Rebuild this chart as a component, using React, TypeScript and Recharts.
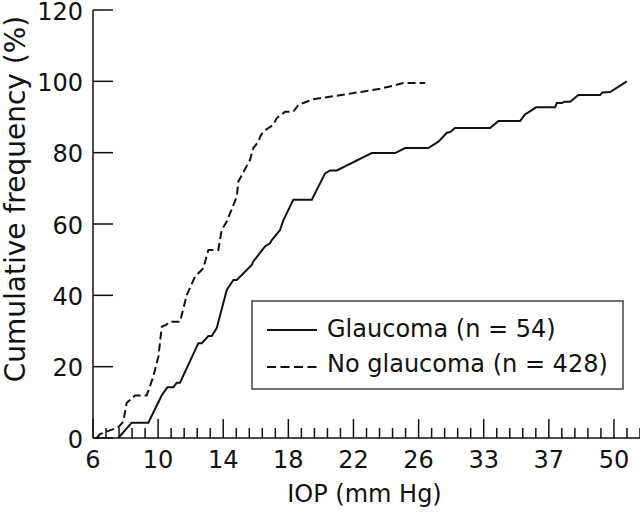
import { LineChart, Line, XAxis, YAxis } from "recharts";

// x is the position along the IOP axis in minor-tick steps (labels below)
const xTickLabels = ["6", "10", "14", "18", "22", "26", "33", "37", "50"];
const xMinorTicks = Array.from({ length: 43 }, (_, i) => i);
const yTicks = [0, 20, 40, 60, 80, 100, 120];

const glaucoma = [
  { x: 1.94, y: 0 }, { x: 2.97, y: 4.3 }, { x: 4.25, y: 4.3 }, { x: 5.28, y: 12 },
  { x: 5.71, y: 14.2 }, { x: 6.17, y: 14.2 }, { x: 6.43, y: 15.5 }, { x: 6.68, y: 15.5 },
  { x: 8.09, y: 26.6 }, { x: 8.35, y: 26.6 }, { x: 8.86, y: 28.6 }, { x: 9.12, y: 28.6 },
  { x: 9.5, y: 30.8 }, { x: 10.27, y: 41.5 }, { x: 10.78, y: 44.3 }, { x: 11.04, y: 44.3 },
  { x: 12.19, y: 48.5 }, { x: 12.31, y: 49.5 }, { x: 13.21, y: 53.7 }, { x: 13.59, y: 54.6 },
  { x: 13.73, y: 55.5 }, { x: 14.36, y: 58.3 }, { x: 14.62, y: 61.1 }, { x: 15.38, y: 66.8 },
  { x: 16.8, y: 66.8 }, { x: 17.82, y: 74.2 }, { x: 18.2, y: 75 }, { x: 18.72, y: 75 },
  { x: 21.4, y: 79.9 }, { x: 23.2, y: 79.9 }, { x: 23.96, y: 81.3 }, { x: 25.75, y: 81.3 },
  { x: 26.52, y: 83.1 }, { x: 27.17, y: 85.6 }, { x: 27.42, y: 85.8 }, { x: 27.8, y: 86.9 },
  { x: 30.49, y: 86.9 }, { x: 31.13, y: 88.9 }, { x: 32.8, y: 88.9 }, { x: 33.18, y: 90.8 },
  { x: 33.43, y: 91.3 }, { x: 34.02, y: 92.7 }, { x: 35.48, y: 92.7 }, { x: 35.61, y: 93.9 },
  { x: 36, y: 93.9 }, { x: 36.2, y: 94.3 }, { x: 36.64, y: 94.3 }, { x: 37.27, y: 96.2 },
  { x: 38.94, y: 96.2 }, { x: 39.12, y: 96.9 }, { x: 39.71, y: 97 }, { x: 40.99, y: 100 },
];

const noGlaucoma = [
  { x: 0.28, y: 0 }, { x: 0.54, y: 1.1 }, { x: 1.18, y: 2 }, { x: 1.94, y: 3 },
  { x: 2.33, y: 4.6 }, { x: 2.59, y: 9.9 }, { x: 3.23, y: 11.9 }, { x: 4.12, y: 11.9 },
  { x: 4.63, y: 17.2 }, { x: 5.02, y: 22.8 }, { x: 5.28, y: 31.2 }, { x: 5.61, y: 31.7 },
  { x: 5.91, y: 32.6 }, { x: 6.68, y: 32.6 }, { x: 7.2, y: 40.1 }, { x: 7.83, y: 45.2 },
  { x: 8.47, y: 47.6 }, { x: 8.86, y: 52.7 }, { x: 9.62, y: 52.7 }, { x: 9.88, y: 58.3 },
  { x: 10.27, y: 60.7 }, { x: 11.04, y: 67.7 }, { x: 11.16, y: 71.9 }, { x: 12.06, y: 78 },
  { x: 12.31, y: 81.3 }, { x: 12.7, y: 83.1 }, { x: 12.83, y: 84.5 }, { x: 13.08, y: 85.9 },
  { x: 13.46, y: 86.9 }, { x: 13.85, y: 87.8 }, { x: 14.11, y: 89.7 }, { x: 14.75, y: 91.5 },
  { x: 15.38, y: 91.5 }, { x: 15.77, y: 93.4 }, { x: 16.92, y: 95 }, { x: 19.49, y: 96.4 },
  { x: 22.04, y: 97.9 }, { x: 23.83, y: 99.5 }, { x: 25.5, y: 99.5 },
];

const FONT = "'DejaVu Sans', sans-serif";
const INK = "#111";

const XTick = ({ x, y, payload }: any) => {
  const major = payload.value % 5 === 0;
  const label = major ? xTickLabels[payload.value / 5] : null;
  return (
    <g>
      <line x1={x} x2={x} y1={y} y2={y - (major ? 19 : 10)} stroke={INK} strokeWidth={1.5} />
      {label && (
        <text x={x} y={y + 30} textAnchor="middle" fontSize={24} fontFamily={FONT} fill={INK}>
          {label}
        </text>
      )}
    </g>
  );
};

const YTick = ({ x, y, payload }: any) => (
  <g>
    <line x1={x} x2={x + 20} y1={y} y2={y} stroke={INK} strokeWidth={1.5} />
    <text x={x - 10} y={y + 9.5} textAnchor="end" fontSize={24} fontFamily={FONT} fill={INK}>
      {payload.value}
    </text>
  </g>
);

export default function App() {
  return (
    <div style={{ position: "absolute", left: 0, top: 0, width: 640, height: 515, background: "#fff" }}>
      <LineChart width={640} height={515} margin={{ top: 10, right: 0, bottom: 0, left: 0 }}>
        <XAxis
          type="number"
          dataKey="x"
          domain={[0, 42]}
          ticks={xMinorTicks}
          interval={0}
          height={77}
          tickSize={0}
          tickMargin={0}
          tickLine={false}
          axisLine={{ stroke: INK, strokeWidth: 1.5 }}
          tick={<XTick />}
          label={({ viewBox }: any) => (
            <text
              x={viewBox.x + viewBox.width / 2 - 2}
              y={viewBox.y + 64}
              textAnchor="middle"
              fontSize={24}
              fontFamily={FONT}
              fill={INK}
            >
              IOP (mm Hg)
            </text>
          )}
        />
        <YAxis
          type="number"
          domain={[0, 120]}
          ticks={yTicks}
          interval={0}
          width={93}
          tickSize={0}
          tickMargin={0}
          tickLine={false}
          axisLine={{ stroke: INK, strokeWidth: 1.5 }}
          tick={<YTick />}
          label={({ viewBox }: any) => {
            const cx = 25;
            const cy = viewBox.y + viewBox.height / 2 - 25;
            return (
              <text
                x={cx}
                y={cy}
                transform={`rotate(-90 ${cx} ${cy})`}
                textAnchor="middle"
                fontSize={28}
                fontFamily={FONT}
                fill={INK}
              >
                Cumulative frequency (%)
              </text>
            );
          }}
        />
        <Line
          data={noGlaucoma}
          dataKey="y"
          type="linear"
          stroke={INK}
          strokeWidth={2}
          strokeDasharray="8 4"
          dot={false}
          isAnimationActive={false}
        />
        <Line
          data={glaucoma}
          dataKey="y"
          type="linear"
          stroke={INK}
          strokeWidth={2}
          dot={false}
          isAnimationActive={false}
        />
      </LineChart>
      <svg width={373} height={90} style={{ position: "absolute", left: 251, top: 300 }}>
        <rect x={1} y={1} width={371} height={88} fill="#fff" stroke="#444" strokeWidth={1.5} />
        <line x1={16} x2={66} y1={30} y2={30} stroke={INK} strokeWidth={2} />
        <line x1={16} x2={66} y1={67} y2={67} stroke={INK} strokeWidth={2} strokeDasharray="9 4.5" />
        <text x={76} y={37} fontSize={24} fontFamily={FONT} fill={INK}>
          Glaucoma (n = 54)
        </text>
        <text x={76} y={72} fontSize={24} fontFamily={FONT} fill={INK}>
          No glaucoma (n = 428)
        </text>
      </svg>
    </div>
  );
}
